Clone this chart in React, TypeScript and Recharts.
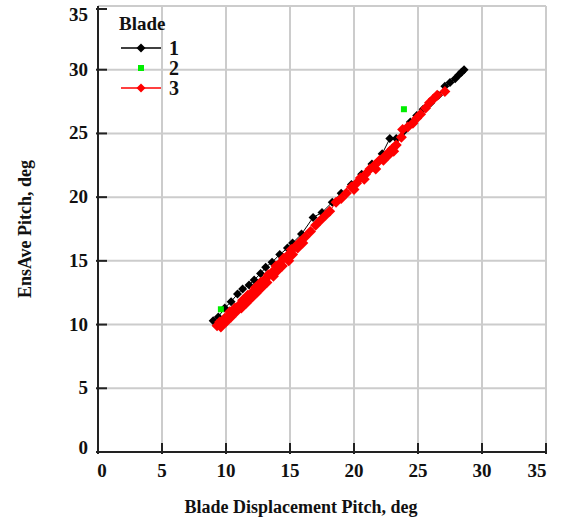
import React from "react";
import {
  ScatterChart,
  Scatter,
  XAxis,
  YAxis,
  CartesianGrid,
} from "recharts";

// Blade 1 (black diamonds + line)
const blade1X = [9.0, 9.4, 9.9, 10.4, 10.9, 11.3, 11.8, 12.2, 12.7, 13.1, 13.6, 14.2, 14.8, 15.2, 15.9, 16.8, 17.5, 18.3, 19.0, 19.8, 20.6, 21.4, 22.2, 22.8, 23.3, 23.9, 24.4, 24.9, 25.4, 26.0, 26.6, 27.1, 27.5, 27.9, 28.2, 28.4, 28.6];
const blade1Y = [10.3, 10.6, 11.3, 11.8, 12.4, 12.8, 13.1, 13.5, 14.0, 14.5, 14.9, 15.5, 16.0, 16.4, 17.1, 18.4, 18.8, 19.6, 20.3, 21.0, 21.8, 22.6, 23.4, 24.6, 24.6, 25.2, 25.9, 26.4, 26.9, 27.4, 28.0, 28.7, 29.0, 29.3, 29.6, 29.8, 30.0];

// Blade 2 (green squares)
const blade2X = [9.6, 23.9];
const blade2Y = [11.2, 26.9];

// Blade 3 (red diamonds + line)
const blade3X = [
  9.3, 9.5, 9.6, 9.7, 9.9, 10.0, 10.1, 10.3, 10.4, 10.5, 10.7, 10.8, 10.9, 11.1, 11.2, 11.3, 11.5, 11.6, 11.7, 11.9,
  12.0, 12.1, 12.3, 12.4, 12.5, 12.7, 12.8, 12.9, 13.1, 13.2, 13.3, 13.6, 13.7, 13.9, 14.0, 14.2, 14.4, 14.5, 14.8, 14.9,
  15.1, 15.2, 15.4, 15.6, 15.8, 16.0, 16.2, 16.6, 17.0, 17.4, 17.8, 18.1, 18.6, 19.0, 19.4, 19.8, 20.0, 20.2, 20.5, 20.8,
  20.9, 21.25, 21.6, 21.7, 22.0, 22.3, 22.4, 22.7, 22.8, 23.0, 23.1, 23.3, 23.7, 23.8, 24.2, 24.6, 24.9, 25.2, 25.6, 25.9,
  26.2, 26.5, 27.1,
];
const blade3Y = [
  9.9, 10.2, 9.8, 10.1, 10.5, 10.2, 10.6, 11.0, 10.6, 10.9, 11.3, 11.0, 11.2, 11.6, 11.3, 11.9, 11.8, 11.7, 12.3, 12.2,
  12.1, 12.6, 12.9, 12.5, 12.8, 13.3, 12.9, 13.4, 13.6, 13.3, 13.9, 14.1, 13.8, 14.6, 14.2, 14.8, 14.6, 15.2, 15.4, 15.0,
  15.9, 15.5, 16.1, 16.0, 16.5, 16.4, 16.9, 17.3, 17.8, 18.2, 18.6, 18.9, 19.6, 19.9, 20.3, 20.8, 20.6, 21.1, 21.5, 21.4,
  21.8, 22.2, 22.5, 22.2, 22.9, 22.9, 23.2, 23.3, 23.6, 23.8, 23.6, 24.1, 24.7, 25.3, 25.5, 25.8, 26.2, 26.5, 27.0, 27.4,
  27.7, 28.0, 28.3,
];

const ticks = [0, 5, 10, 15, 20, 25, 30, 35];
const legendTitle = "Blade";
const legendNames = ["1", "2", "3"];

const zip = (xs: number[], ys: number[]) => xs.map((x, i) => ({ x, y: ys[i] }));
const blade1 = zip(blade1X, blade1Y);
const blade2 = zip(blade2X, blade2Y);
const blade3 = zip(blade3X, blade3Y);

const FONT = "'Liberation Serif', 'Times New Roman', serif";
const FRAME = "#222";
const TICK_LEN = 11;

const makeDiamond = (color: string, r: number) => (props: any) => {
  const { cx, cy } = props;
  if (cx == null || cy == null) return <g />;
  return <path d={`M${cx},${cy - r}L${cx + r},${cy}L${cx},${cy + r}L${cx - r},${cy}Z`} fill={color} />;
};
const makeSquare = (color: string, s: number) => (props: any) => {
  const { cx, cy } = props;
  if (cx == null || cy == null) return <g />;
  return <rect x={cx - s / 2} y={cy - s / 2} width={s} height={s} fill={color} />;
};

const BottomTick = (props: any) => {
  const { x, y, payload } = props;
  // end labels are nudged inward, like in the original
  const dx = payload.value === 0 ? 4 : payload.value === 35 ? -9 : 0;
  return (
    <g>
      <line x1={x} x2={x} y1={y} y2={y - TICK_LEN} stroke={FRAME} strokeWidth={2} />
      <text x={x + dx} y={y + 23} textAnchor="middle" fontFamily={FONT} fontWeight="bold" fontSize={19} fill="#111">
        {payload.value}
      </text>
    </g>
  );
};
const TopTick = (props: any) => {
  const { x, y } = props;
  return <line x1={x} x2={x} y1={y} y2={y + TICK_LEN} stroke={FRAME} strokeWidth={2} />;
};
const LeftTick = (props: any) => {
  const { x, y, payload } = props;
  const dy = payload.value === 35 ? 6 : payload.value === 0 ? -4 : 0;
  return (
    <g>
      <line x1={x} x2={x + TICK_LEN} y1={y} y2={y} stroke={FRAME} strokeWidth={2} />
      <text x={x - 8} y={y + 6 + dy} textAnchor="end" fontFamily={FONT} fontWeight="bold" fontSize={19} fill="#111">
        {payload.value}
      </text>
    </g>
  );
};
const RightTick = (props: any) => {
  const { x, y } = props;
  return <line x1={x} x2={x - TICK_LEN} y1={y} y2={y} stroke={FRAME} strokeWidth={2} />;
};

const legendRows = [
  { name: legendNames[0], color: "#000", line: true, square: false },
  { name: legendNames[1], color: "#00ee00", line: false, square: true },
  { name: legendNames[2], color: "#ff0000", line: true, square: false },
];

export default function App() {
  return (
    <div style={{ position: "relative", width: 562, height: 525 }}>
      <style>{"body{margin:0;background:#fff}"}</style>
      <ScatterChart width={562} height={525} margin={{ top: 6, right: 16, bottom: 0, left: 0 }}>
        <CartesianGrid stroke="#cccccc" strokeWidth={2} />
        <XAxis
          type="number"
          dataKey="x"
          domain={[0, 35]}
          ticks={ticks}
          height={73}
          tickSize={0}
          tickLine={false}
          axisLine={{ stroke: FRAME, strokeWidth: 2 }}
          tick={<BottomTick />}
          label={{
            value: "Blade Displacement Pitch, deg",
            position: "insideBottom",
            offset: 12,
            dx: -21,
            style: { fontFamily: FONT, fontWeight: "bold", fontSize: 18, fill: "#111" },
          }}
        />
        <XAxis
          xAxisId="top"
          orientation="top"
          type="number"
          domain={[0, 35]}
          ticks={ticks}
          height={0}
          tickSize={0}
          tickLine={false}
          axisLine={{ stroke: FRAME, strokeWidth: 2 }}
          tick={<TopTick />}
        />
        <YAxis
          type="number"
          dataKey="y"
          domain={[0, 35]}
          ticks={ticks}
          width={98}
          tickSize={0}
          tickLine={false}
          axisLine={{ stroke: FRAME, strokeWidth: 2 }}
          tick={<LeftTick />}
          label={{
            value: "EnsAve Pitch, deg",
            angle: -90,
            position: "insideLeft",
            offset: 25,
            style: { fontFamily: FONT, fontWeight: "bold", fontSize: 18, fill: "#111", textAnchor: "middle" },
          }}
        />
        <YAxis
          yAxisId="right"
          orientation="right"
          type="number"
          domain={[0, 35]}
          ticks={ticks}
          width={0}
          tickSize={0}
          tickLine={false}
          axisLine={{ stroke: FRAME, strokeWidth: 2 }}
          tick={<RightTick />}
        />
        <Scatter
          name="1"
          data={blade1}
          fill="#000"
          line={{ stroke: "#000", strokeWidth: 1 }}
          lineType="joint"
          shape={makeDiamond("#000", 4.5)}
          isAnimationActive={false}
        />
        <Scatter
          name="2"
          data={blade2}
          fill="#00ee00"
          shape={makeSquare("#00ee00", 6)}
          isAnimationActive={false}
        />
        <Scatter
          name="3"
          data={blade3}
          fill="#ff0000"
          line={{ stroke: "#ff0000", strokeWidth: 1 }}
          lineType="joint"
          shape={makeDiamond("#ff0000", 5.5)}
          isAnimationActive={false}
        />
      </ScatterChart>
      <div
        style={{
          position: "absolute",
          left: 119,
          top: 13,
          fontFamily: FONT,
          fontWeight: "bold",
          color: "#111",
        }}
      >
        <div style={{ fontSize: 19, lineHeight: "22px", height: 25 }}>{legendTitle}</div>
        {legendRows.map((r) => (
          <div key={r.name} style={{ display: "flex", alignItems: "center", height: 20 }}>
            <svg width={46} height={20} style={{ display: "block" }}>
              {r.line && <line x1={2} x2={42} y1={10} y2={10} stroke={r.color} strokeWidth={1.5} />}
              {r.square ? (
                <rect x={19} y={7} width={6} height={6} fill={r.color} />
              ) : (
                <path d="M22,5.5L26.5,10L22,14.5L17.5,10Z" fill={r.color} />
              )}
            </svg>
            <span style={{ fontSize: 20, lineHeight: "20px", marginLeft: 4 }}>{r.name}</span>
          </div>
        ))}
      </div>
    </div>
  );
}
